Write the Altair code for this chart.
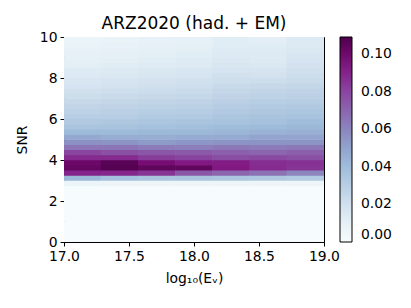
import altair as alt
import numpy as np
import pandas as pd

# log10(E) bin edges: 7 equal bins from 17 to 19
x_edges = list(np.linspace(17.0, 19.0, 8))
# SNR bin edges: 40 bins of 0.25 from 0 to 10
y_edges = [i * 0.25 for i in range(41)]

# Rows 0..10 (SNR 0 - 2.75) are essentially empty
low_rows = [0.0005] * 11

# values for SNR rows 2.75 .. 10 (k = 11 .. 39), one list per energy column
col1 = [0.007, 0.042, 0.090, 0.103, 0.101, 0.088, 0.080, 0.065, 0.056, 0.048, 0.041, 0.036,
        0.033, 0.030, 0.028, 0.026, 0.024, 0.022, 0.020, 0.018, 0.017, 0.015, 0.014, 0.012,
        0.011, 0.010, 0.009, 0.008, 0.007]
col2 = [0.006, 0.038, 0.089, 0.107, 0.106, 0.088, 0.077, 0.065, 0.055, 0.046, 0.041, 0.037,
        0.034, 0.031, 0.029, 0.027, 0.025, 0.023, 0.021, 0.019, 0.018, 0.016, 0.015, 0.013,
        0.012, 0.011, 0.010, 0.009, 0.008]
col3 = [0.006, 0.036, 0.085, 0.104, 0.098, 0.083, 0.075, 0.063, 0.053, 0.046, 0.042, 0.038,
        0.035, 0.032, 0.030, 0.028, 0.026, 0.024, 0.022, 0.020, 0.019, 0.017, 0.016, 0.014,
        0.013, 0.012, 0.011, 0.010, 0.009]
col4 = [0.006, 0.036, 0.075, 0.104, 0.093, 0.081, 0.074, 0.062, 0.054, 0.047, 0.042, 0.039,
        0.036, 0.033, 0.031, 0.029, 0.027, 0.025, 0.023, 0.021, 0.020, 0.018, 0.017, 0.015,
        0.014, 0.013, 0.012, 0.011, 0.010]
col5 = [0.006, 0.035, 0.070, 0.093, 0.092, 0.078, 0.072, 0.064, 0.055, 0.047, 0.043, 0.040,
        0.037, 0.035, 0.033, 0.031, 0.029, 0.027, 0.025, 0.023, 0.021, 0.020, 0.018, 0.017,
        0.016, 0.015, 0.014, 0.013, 0.013]
col6 = [0.006, 0.034, 0.066, 0.088, 0.087, 0.079, 0.070, 0.063, 0.055, 0.049, 0.044, 0.041,
        0.038, 0.036, 0.034, 0.032, 0.030, 0.028, 0.026, 0.024, 0.022, 0.019, 0.018, 0.016,
        0.015, 0.015, 0.014, 0.013, 0.012]
col7 = [0.006, 0.032, 0.060, 0.085, 0.086, 0.077, 0.072, 0.064, 0.055, 0.049, 0.045, 0.042,
        0.040, 0.037, 0.035, 0.033, 0.031, 0.029, 0.027, 0.025, 0.023, 0.022, 0.020, 0.019,
        0.018, 0.017, 0.016, 0.015, 0.015]
columns = [col1, col2, col3, col4, col5, col6, col7]

x_ticks = [17.0, 17.5, 18.0, 18.5, 19.0]
y_ticks = [0, 2, 4, 6, 8, 10]
cbar_ticks = [0.0, 0.02, 0.04, 0.06, 0.08, 0.10]
vmax = 0.109

bupu = ["#f7fcfd", "#e0ecf4", "#bfd3e6", "#9ebcda", "#8c96c6",
        "#8c6bb1", "#88419d", "#810f7c", "#4d004b"]

rows = []
for i, col in enumerate(columns):
    vals = low_rows + col
    for k, v in enumerate(vals):
        rows.append({"x0": x_edges[i], "x1": x_edges[i + 1],
                     "y0": y_edges[k], "y1": y_edges[k + 1], "v": v})
df = pd.DataFrame(rows)

FONT = "DejaVu Sans"
FS = 13.9

chart = alt.Chart(df).mark_rect(
    xOffset=-0.3, x2Offset=0.3, yOffset=0.3, y2Offset=-0.3, clip=True
).encode(
    x=alt.X("x0:Q", scale=alt.Scale(domain=[17, 19], nice=False, zero=False),
            axis=alt.Axis(title="log₁₀(Eᵥ)", values=x_ticks, format=".1f",
                          labelFlush=False, labelOverlap=False, grid=False)),
    x2="x1:Q",
    y=alt.Y("y0:Q", scale=alt.Scale(domain=[0, 10], nice=False),
            axis=alt.Axis(title="SNR", values=y_ticks, format="d",
                          labelFlush=False, labelOverlap=False, grid=False)),
    y2="y1:Q",
    color=alt.Color("v:Q",
                    scale=alt.Scale(domain=[0, vmax], range=bupu, interpolate="rgb"),
                    legend=alt.Legend(title=None, orient="none",
                                      legendX=276, legendY=0,
                                      direction="vertical", gradientLength=205,
                                      gradientThickness=12, values=cbar_ticks,
                                      format=".2f", labelOffset=9, labelOverlap=False,
                                      gradientStrokeColor="black", gradientStrokeWidth=1,
                                      labelFontSize=FS, labelFont=FONT, labelColor="black",
                                      padding=0)),
).properties(
    width=260, height=205,
    title=alt.TitleParams("ARZ2020 (had. + EM)", font=FONT, fontSize=17,
                          fontWeight="normal", color="black", offset=-3),
    autosize=alt.AutoSizeParams(type="none"),
    padding={"left": 56, "top": 29, "right": 79, "bottom": 58},
).configure_view(
    stroke="black", strokeWidth=1
).configure_axis(
    labelFont=FONT, labelFontSize=FS, labelColor="black",
    titleFont=FONT, titleFontSize=FS, titleColor="black", titleFontWeight="normal",
    domainColor="black", tickColor="black", tickSize=4, labelPadding=3,
)
chart = chart.configure_axisY(titlePadding=10).configure_axisX(titlePadding=9)

chart.save("out.html", embed_options={"renderer": "svg", "actions": False})
